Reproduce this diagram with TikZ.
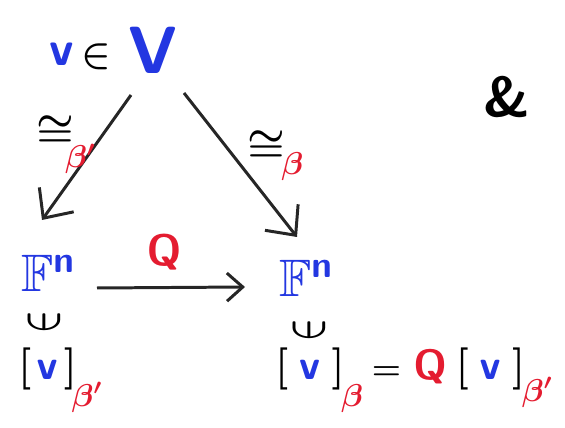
\documentclass[tikz,border=0pt]{standalone}
\usepackage{fix-cm}
\usepackage{amsmath,amssymb}
\usepackage{graphicx}
\usetikzlibrary{arrows.meta,positioning}
\definecolor{penblue}{RGB}{35,55,225}
\definecolor{penred}{RGB}{228,28,48}
\newcommand{\sz}[1]{\fontsize{#1}{#1}\selectfont\boldmath}
% tief gestellter roter Index
\newcommand{\basis}[2][15pt]{\raisebox{-#1}{\fontsize{18}{18}\selectfont\color{penred}$#2$}}
\newcommand{\iso}{\scalebox{1.2}[1.15]{$\cong$}}
\newcommand{\coordv}[1][3mu]{$[\mkern#1{\color{penblue}\mathsf{v}}\mkern#1]$}

\begin{document}
\begin{tikzpicture}[x=0.02cm,y=-0.02cm,
  >={Straight Barb[length=13pt,width=24pt]},
  map/.style={->, line width=1.7pt, black!85},
  sym/.style={inner sep=1pt},
  space/.style={sym, text=penblue, font=\sz{30}},
  lab/.style={sym, font=\sz{20}, anchor=base west},
  memb/.style={sym, font=\sz{24}},
  coord/.style={sym, font=\sz{24}, anchor=base west}
]
\useasboundingbox (0,0) rectangle (565,428);

% oben: v in V
\node[sym, text=penblue, font=\sz{28}] (vec) at (62,54) {$\mathsf{v}$};
\node[sym, font=\sz{22}] (elt) at (96,57) {$\in$};
\node[sym, text=penblue, font=\sz{38}] (V) at (153,50) {$\mathsf{V}$};
\node[sym, font=\sz{32}] (amp) at (507,97) {\textsf{\bfseries\&}};

% die beiden Koordinatenraeume
\node[space] (Fl) at (48,273) {$\mathbb{F}^{\mathsf{n}}$};
\node[space] (Fr) at (306,278) {$\mathbb{F}^{\mathsf{n}}$};

% Pfeile
\draw[map] ([shift={(-22,45)}]V.center) -- ([shift={(-6,-53)}]Fl.center);
\draw[map] ([shift={(31,43)}]V.center) -- ([shift={(-9,-41)}]Fr.center);
\draw[map, >={Straight Barb[length=9pt,width=16pt]}]
  ([shift={(49,15)}]Fl.center) -- ([shift={(-61,9)}]Fr.center);

% Beschriftungen
\node[lab] (isol) at (34,145) {\iso\kern-5pt\basis[13pt]{\beta'}};
\node[lab] (isor) at (245,160) {\iso\kern-2pt\basis[8pt]{\beta}};
\node[sym, text=penred, font=\sz{25}] (Q) at (164,253) {$\mathsf{Q}$};

% Elemente
\node[memb] (inl) at (44,322) {\scalebox{1.15}[0.7]{\rotatebox{90}{$\in$}}};
\node[memb] (inr) at (309,330) {\scalebox{1.15}[0.7]{\rotatebox{90}{$\in$}}};
\node[coord] (vl) at (16,380) {\coordv[2mu]\kern-3pt\basis{\beta'}};
\node[coord] (vr) at (273,380)
  {\coordv[4mu]\kern-2pt\basis{\beta}\kern5pt{\fontsize{19}{19}\selectfont$=$}\kern7pt{\color{penred}\fontsize{24}{24}\selectfont$\mathsf{Q}$}\kern5pt\coordv[4mu]\kern-2pt\basis[12pt]{\beta'}};
\end{tikzpicture}
\end{document}
